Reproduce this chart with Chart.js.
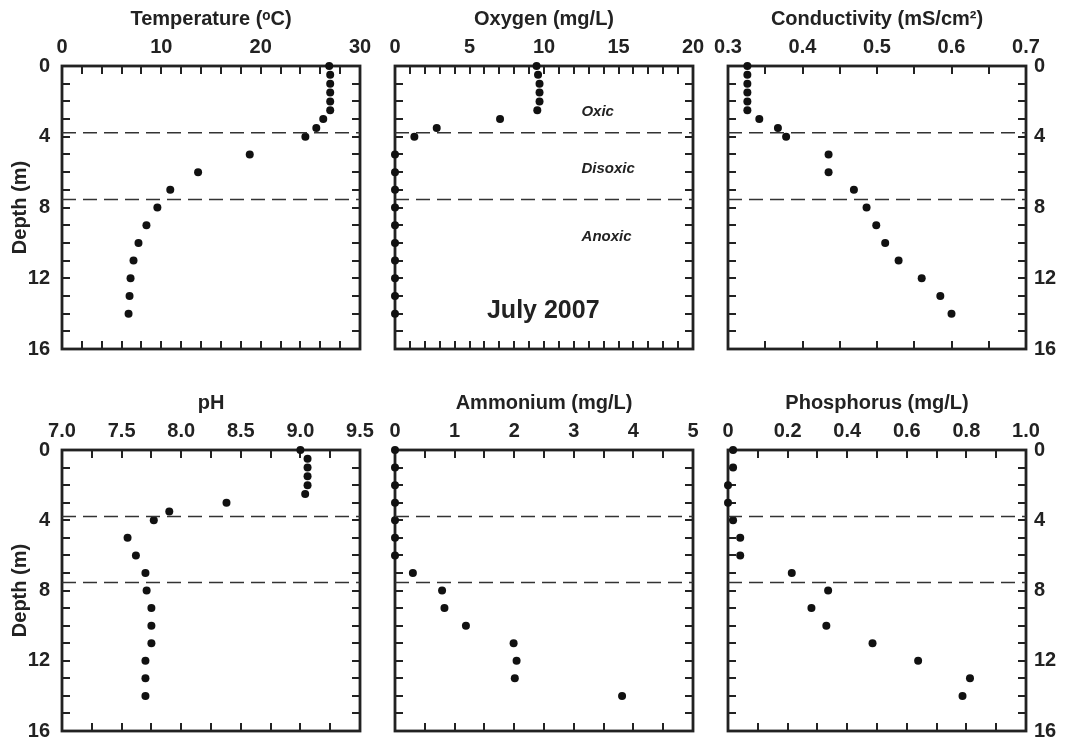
<!DOCTYPE html>
<html>
<head>
<meta charset="utf-8">
<title>July 2007 depth profiles</title>
<script src="https://cdn.jsdelivr.net/npm/chart.js@4.4.1/dist/chart.umd.min.js"></script>
<style>
    body { margin: 0; background: #fff; }
    #wrap { position: relative; width: 1066px; height: 745px; overflow: hidden; }
    #wrap canvas { position: absolute; }
</style>
</head>
<body>
<div id="wrap"></div>
<script>
// sampling depths (m)
const depthFine = [0, 0.5, 1, 1.5, 2, 2.5, 3, 3.5, 4, 5, 6, 7, 8, 9, 10, 11, 12, 13, 14];
const depthWhole = [0, 1, 2, 3, 4, 5, 6, 7, 8, 9, 10, 11, 12, 13, 14];

const temperature = [26.9, 27.0, 27.0, 27.0, 27.0, 27.0, 26.3, 25.6, 24.5, 18.9, 13.7, 10.9, 9.6, 8.5, 7.7, 7.2, 6.9, 6.8, 6.7];
const oxygen = [9.5, 9.6, 9.7, 9.7, 9.7, 9.55, 7.05, 2.8, 1.3, 0, 0, 0, 0, 0, 0, 0, 0, 0, 0];
const conductivity = [0.326, 0.326, 0.326, 0.326, 0.326, 0.326, 0.342, 0.367, 0.378, 0.435, 0.435, 0.469, 0.486, 0.499, 0.511, 0.529, 0.560, 0.585, 0.600];
const ph = [9.00, 9.06, 9.06, 9.06, 9.06, 9.04, 8.38, 7.90, 7.77, 7.55, 7.62, 7.70, 7.71, 7.75, 7.75, 7.75, 7.70, 7.70, 7.70];
const ammonium = [0, 0, 0, 0, 0, 0, 0, 0.30, 0.79, 0.83, 1.19, 1.99, 2.04, 2.01, 3.81];
const phosphorus = [0.017, 0.017, 0, 0, 0.017, 0.041, 0.041, 0.214, 0.336, 0.28, 0.33, 0.485, 0.638, 0.812, 0.787];

// axis ticks
const depthTicks = [0, 4, 8, 12, 16];
const tempTicks = [0, 10, 20, 30];
const oxygenTicks = [0, 5, 10, 15, 20];
const condTicks = [0.3, 0.4, 0.5, 0.6, 0.7];
const condTickLabels = ['0.3', '0.4', '0.5', '0.6', '0.7'];
const phTicks = [7.0, 7.5, 8.0, 8.5, 9.0, 9.5];
const phTickLabels = ['7.0', '7.5', '8.0', '8.5', '9.0', '9.5'];
const ammTicks = [0, 1, 2, 3, 4, 5];
const phosTicks = [0, 0.2, 0.4, 0.6, 0.8, 1.0];
const phosTickLabels = ['0', '0.2', '0.4', '0.6', '0.8', '1.0'];

// redox zone boundaries (m) and labels on the oxygen panel
const zoneBounds = [3.78, 7.55];
const zoneNames = ['Oxic', 'Disoxic', 'Anoxic'];
const zoneNameDepth = [2.6, 5.8, 9.65];
const zoneNameOxygen = [13.6, 14.3, 14.2];
const dateLabel = 'July 2007';
const dateDepth = 13.85;
const dateOxygen = 9.95;

const FONT = "'Liberation Sans', Arial, Helvetica, sans-serif";
const INK = '#222';
Chart.defaults.font.family = FONT;
Chart.defaults.color = INK;

// page layout
const M = { left: 62, top: 66, right: 45, bottom: 22 };
const colLeft = [62, 395, 728];
const rowTop = [66, 450];
const rowHeight = [283, 281];
const plotWidth = 298;

function frameTicks(xMinor, yMinor) {
    return {
        id: 'frameTicks',
        beforeDatasetsDraw(chart) {
            const { ctx, chartArea: a } = chart;
            const x = chart.scales.x, y = chart.scales.y;
            ctx.save();
            ctx.strokeStyle = INK;
            ctx.lineWidth = 2;
            ctx.beginPath();
            const nx = Math.round((x.max - x.min) / xMinor);
            for (let i = 1; i < nx; i++) {
                const px = Math.round(x.getPixelForValue(x.min + i * xMinor));
                ctx.moveTo(px, a.top); ctx.lineTo(px, a.top + 8);
                ctx.moveTo(px, a.bottom); ctx.lineTo(px, a.bottom - 8);
            }
            const ny = Math.round((y.max - y.min) / yMinor);
            for (let i = 1; i < ny; i++) {
                const py = Math.round(y.getPixelForValue(y.min + i * yMinor));
                ctx.moveTo(a.left, py); ctx.lineTo(a.left + 8, py);
                ctx.moveTo(a.right, py); ctx.lineTo(a.right - 8, py);
            }
            ctx.stroke();
            ctx.lineWidth = 2.8;
            ctx.strokeRect(a.left, a.top, a.width, a.height);
            ctx.restore();
        }
    };
}

function zoneNotes() {
    return {
        id: 'zoneNotes',
        afterDatasetsDraw(chart) {
            const { ctx } = chart;
            const x = chart.scales.x, y = chart.scales.y;
            ctx.save();
            ctx.fillStyle = INK;
            ctx.textAlign = 'center';
            ctx.textBaseline = 'middle';
            ctx.font = 'italic bold 15px ' + FONT;
            zoneNames.forEach((name, i) => {
                ctx.fillText(name, x.getPixelForValue(zoneNameOxygen[i]), y.getPixelForValue(zoneNameDepth[i]));
            });
            ctx.font = 'bold 25px ' + FONT;
            ctx.fillText(dateLabel, x.getPixelForValue(dateOxygen), y.getPixelForValue(dateDepth));
            ctx.restore();
        }
    };
}

function makePanel(p) {
    const w = M.left + plotWidth + M.right;
    const h = M.top + rowHeight[p.row] + M.bottom;
    const canvas = document.createElement('canvas');
    canvas.width = w;
    canvas.height = h;
    canvas.style.left = (colLeft[p.col] - M.left) + 'px';
    canvas.style.top = (rowTop[p.row] - M.top) + 'px';
    document.getElementById('wrap').appendChild(canvas);

    const xMin = p.ticks[0], xMax = p.ticks[p.ticks.length - 1];
    const labels = p.labels || p.ticks.map(String);
    const yWidth = [M.left, 0, M.right][p.col];

    const datasets = zoneBounds.map(b => ({
        type: 'line',
        data: [{ x: xMin, y: b }, { x: xMax, y: b }],
        borderColor: '#333',
        borderWidth: 1.5,
        borderDash: [14, 7],
        pointRadius: 0,
        fill: false,
    }));
    datasets.push({
        data: p.values.map((v, i) => ({ x: v, y: p.depths[i] })),
        backgroundColor: '#111',
        borderWidth: 0,
        pointRadius: 4,
        pointHoverRadius: 4,
        clip: false,
    });

    const plugins = [frameTicks(p.xMinor, 1)];
    if (p.notes) plugins.push(zoneNotes());

    return new Chart(canvas, {
        type: 'scatter',
        data: { datasets },
        plugins,
        options: {
            responsive: false,
            devicePixelRatio: 1,
            animation: false,
            events: [],
            layout: {
                padding: {
                    left: p.col === 0 ? 0 : M.left,
                    right: p.col === 2 ? 0 : M.right,
                    top: 0,
                    bottom: M.bottom,
                }
            },
            plugins: {
                legend: { display: false },
                tooltip: { enabled: false },
            },
            scales: {
                x: {
                    type: 'linear',
                    position: 'top',
                    min: xMin,
                    max: xMax,
                    afterBuildTicks: s => { s.ticks = p.ticks.map(v => ({ value: v })); },
                    afterFit: s => { s.height = M.top; s.paddingLeft = 0; s.paddingRight = 0; },
                    grid: { display: false, drawTicks: false },
                    border: { display: false },
                    ticks: {
                        font: { size: 20, weight: 'bold' },
                        color: INK,
                        padding: 7,
                        maxRotation: 0,
                        autoSkip: false,
                        callback: (v, i) => labels[i],
                    },
                    title: {
                        display: true,
                        text: p.title,
                        color: INK,
                        font: { size: 20, weight: 'bold' },
                        padding: { top: 7, bottom: 0 },
                    }
                },
                y: {
                    type: 'linear',
                    position: p.col === 2 ? 'right' : 'left',
                    reverse: true,
                    min: 0,
                    max: 16,
                    afterBuildTicks: s => { s.ticks = depthTicks.map(v => ({ value: v })); },
                    afterFit: s => { s.width = yWidth; s.paddingTop = 0; s.paddingBottom = 0; },
                    grid: { display: false, drawTicks: false },
                    border: { display: false },
                    ticks: {
                        display: p.col !== 1,
                        font: { size: 20, weight: 'bold' },
                        color: INK,
                        padding: p.col === 0 ? 12 : 8,
                        autoSkip: false,
                    },
                    title: {
                        display: p.col === 0,
                        text: 'Depth (m)',
                        color: INK,
                        font: { size: 20, weight: 'bold' },
                        padding: { top: 8, bottom: 0 },
                    }
                }
            }
        }
    });
}

makePanel({ row: 0, col: 0, title: 'Temperature (\u1D52C)', values: temperature, depths: depthFine, ticks: tempTicks, xMinor: 2 });
makePanel({ row: 0, col: 1, title: 'Oxygen (mg/L)', values: oxygen, depths: depthFine, ticks: oxygenTicks, xMinor: 1, notes: true });
makePanel({ row: 0, col: 2, title: 'Conductivity (mS/cm\u00B2)', values: conductivity, depths: depthFine, ticks: condTicks, labels: condTickLabels, xMinor: 0.05 });
makePanel({ row: 1, col: 0, title: 'pH', values: ph, depths: depthFine, ticks: phTicks, labels: phTickLabels, xMinor: 0.25 });
makePanel({ row: 1, col: 1, title: 'Ammonium (mg/L)', values: ammonium, depths: depthWhole, ticks: ammTicks, xMinor: 0.5 });
makePanel({ row: 1, col: 2, title: 'Phosphorus (mg/L)', values: phosphorus, depths: depthWhole, ticks: phosTicks, labels: phosTickLabels, xMinor: 0.1 });
</script>
</body>
</html>
